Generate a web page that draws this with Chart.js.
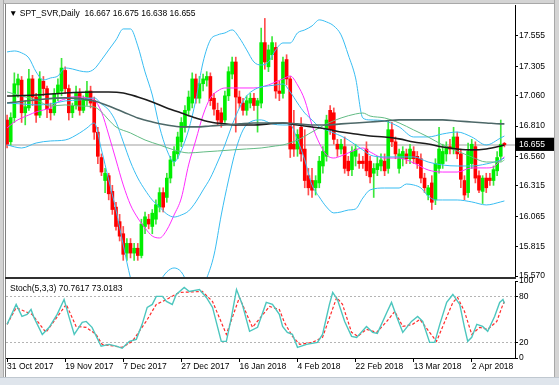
<!DOCTYPE html>
<html>
<head>
<meta charset="utf-8">
<title>SPT_SVR,Daily</title>
<script src="https://cdn.jsdelivr.net/npm/chart.js@4.4.1/dist/chart.umd.min.js"></script>
<style>
  html, body { margin: 0; padding: 0; background: #fff; }
  #wrap { position: relative; width: 559px; height: 385px; overflow: hidden; background: #fff; }
  canvas { position: absolute; left: 0; }
  #main { top: 0; }
  #stoch { top: 268px; }
  .edge { position: absolute; }
  .hdr { position: absolute; font-family: 'Liberation Sans', Arial, sans-serif; font-size: 8.5px; line-height: 10px; color: #000; white-space: nowrap; }
</style>
</head>
<body>
<div id="wrap">
  <canvas id="main" width="559" height="279"></canvas>
  <canvas id="stoch" width="559" height="117"></canvas>
  <div class="edge" style="left:0;top:0;width:559px;height:3px;background:#d4d4d4;border-bottom:1px solid #a8a8a8"></div>
  <div class="edge" style="left:0;top:0;width:3px;height:385px;background:#d4d4d4;border-right:1px solid #a8a8a8"></div>
  <div class="edge" style="left:5px;top:4px;width:1px;height:374px;background:#808080"></div>
  <div class="edge" style="left:5px;top:277px;width:511px;height:2px;background:#303030"></div>
  <div class="edge" style="left:554px;top:0;width:5px;height:385px;background:#d4d4d4;border-left:1px solid #a8a8a8"></div>
  <div class="edge" style="left:0;top:377px;width:559px;height:8px;background:#dfe5ec;border-top:1px solid #c0c8d0"></div>
  <div class="hdr" style="left:9px;top:8px">&#9660; SPT_SVR,Daily&nbsp; 16.667 16.675 16.638 16.655</div>
  <div class="hdr" style="left:10px;top:283px">Stoch(5,3,3) 70.7617 73.0183</div>
</div>
<script>
/* ===========================
   SPT_SVR daily: candles + BB + MAs, Stoch(5,3,3)
============================ */

// --- candles (one per bar, bar 0 = 31 Oct 2017)
const opens = [16.86,16.68,16.88,17.15,17.19,16.92,16.96,17.20,17.05,16.90,
  17.18,17.12,16.95,16.92,17.08,17.10,17.27,17.12,16.92,16.98,
  17.08,16.94,17.02,17.10,17.02,16.76,16.55,16.36,16.40,16.27,
  16.14,16.02,15.92,15.76,15.84,15.76,15.80,15.74,15.98,16.04,
  15.98,16.04,16.14,16.26,16.22,16.38,16.52,16.58,16.68,16.80,
  16.94,17.00,17.20,17.04,17.16,17.19,17.22,17.04,16.94,16.92,
  16.86,17.06,17.24,17.34,17.05,17.00,16.94,17.00,17.04,16.98,
  17.00,17.50,17.30,17.40,17.46,17.10,17.08,17.36,17.20,16.66,
  16.62,16.80,16.62,16.40,16.36,16.30,16.34,16.48,16.56,16.94,
  16.92,16.66,16.62,16.64,16.52,16.45,16.56,16.52,16.52,16.62,
  16.52,16.42,16.45,16.48,16.52,16.46,16.78,16.68,16.46,16.54,
  16.58,16.54,16.60,16.56,16.54,16.38,16.24,16.34,16.20,16.46,
  16.50,16.58,16.64,16.62,16.72,16.58,16.36,16.26,16.50,16.64,
  16.40,16.27,16.38,16.38,16.36,16.44,16.56,16.667];
const highs = [16.90,16.92,17.25,17.24,17.22,17.02,17.28,17.23,17.08,17.26,
  17.22,17.14,17.00,17.12,17.20,17.37,17.30,17.15,17.00,17.14,
  17.12,17.06,17.18,17.14,17.05,16.80,16.58,16.46,16.42,16.32,
  16.18,16.08,15.98,15.88,15.88,15.84,15.84,16.04,16.10,16.08,
  16.12,16.20,16.30,16.30,16.42,16.56,16.64,16.76,16.88,16.98,
  17.10,17.25,17.24,17.22,17.24,17.26,17.25,17.08,17.00,16.96,
  17.10,17.30,17.38,17.38,17.10,17.04,17.06,17.08,17.08,17.04,
  17.62,17.70,17.48,17.55,17.50,17.18,17.38,17.40,17.22,16.94,
  16.78,16.88,16.78,16.46,16.46,16.40,16.56,16.64,16.90,16.98,
  16.96,16.70,16.70,16.72,16.56,16.64,16.66,16.58,16.56,16.68,
  16.56,16.50,16.56,16.58,16.58,16.86,16.84,16.72,16.62,16.64,
  16.62,16.66,16.64,16.60,16.58,16.42,16.32,16.40,16.54,16.80,
  16.66,16.68,16.70,16.80,16.76,16.62,16.40,16.67,16.70,16.68,
  16.44,16.40,16.42,16.42,16.48,16.60,16.86,16.675];
const lows = [16.63,16.65,16.84,17.05,16.84,16.82,16.94,16.98,16.84,16.88,
  17.06,16.88,16.86,16.90,17.02,17.06,17.08,16.86,16.88,16.95,
  16.90,16.92,16.98,16.96,16.70,16.50,16.40,16.26,16.20,16.08,
  15.95,15.86,15.70,15.70,15.72,15.70,15.70,15.72,15.92,15.96,
  15.92,16.00,16.10,16.10,16.18,16.34,16.48,16.54,16.64,16.76,
  16.90,16.96,17.00,17.00,17.10,17.14,16.98,16.90,16.82,16.80,
  16.84,17.02,17.20,16.76,16.96,16.90,16.90,16.96,16.94,16.76,
  16.96,17.28,17.26,17.36,17.04,17.02,17.04,17.15,16.55,16.56,
  16.56,16.52,16.30,16.24,16.22,16.24,16.30,16.42,16.52,16.74,
  16.66,16.56,16.58,16.42,16.40,16.40,16.48,16.46,16.46,16.40,
  16.34,16.22,16.40,16.44,16.40,16.42,16.64,16.54,16.42,16.48,
  16.50,16.50,16.50,16.46,16.34,16.26,16.20,16.12,16.16,16.42,
  16.46,16.52,16.58,16.58,16.54,16.30,16.20,16.22,16.46,16.34,
  16.26,16.17,16.26,16.32,16.32,16.40,16.52,16.638];
const closes = [16.66,16.88,17.16,17.20,16.92,16.97,17.20,17.05,16.90,17.20,
  17.12,16.95,16.92,17.08,17.15,17.29,17.12,16.92,16.98,17.08,
  16.94,17.03,17.10,17.00,16.76,16.56,16.43,16.42,16.25,16.12,
  15.98,15.90,15.75,15.84,15.76,15.80,15.74,16.00,16.06,16.00,
  16.09,16.16,16.26,16.14,16.38,16.53,16.60,16.72,16.84,16.94,
  17.05,17.20,17.04,17.16,17.20,17.22,17.02,16.95,16.86,16.84,
  17.06,17.26,17.34,17.05,17.00,16.94,17.02,17.04,16.98,17.02,
  17.50,17.34,17.44,17.50,17.10,17.08,17.34,17.20,16.62,16.62,
  16.74,16.58,16.36,16.30,16.28,16.36,16.52,16.60,16.86,16.78,
  16.70,16.62,16.66,16.46,16.44,16.60,16.62,16.50,16.50,16.44,
  16.39,16.46,16.50,16.53,16.44,16.78,16.68,16.58,16.58,16.60,
  16.54,16.62,16.54,16.50,16.38,16.30,16.30,16.18,16.50,16.62,
  16.60,16.64,16.62,16.72,16.58,16.37,16.24,16.60,16.66,16.38,
  16.28,16.38,16.30,16.36,16.45,16.55,16.66,16.655];

// --- Bollinger bands (read at bar positions)
const upperIdx = [0,2,4,6,8,10,12,14,16,18,20,22,24,26,28,30,32,34,36,38,40,42,44,46,48,50,52,54,56,58,60,62,64,66,68,70,72,74,76,78,80,82,84,86,88,90,92,94,96,98,100,104,108,112,116,120,124,128,132,136,137];
const upperVal = [17.423,17.431,17.415,17.373,17.258,17.191,17.208,17.224,17.291,17.282,
  17.266,17.258,17.282,17.357,17.440,17.522,17.613,17.613,17.473,17.258,
  17.067,16.803,16.613,16.513,16.613,16.778,17.026,17.340,17.522,17.564,
  17.580,17.605,17.539,17.440,17.340,17.315,17.340,17.440,17.497,17.497,
  17.580,17.605,17.638,17.688,17.671,17.638,17.564,17.398,17.208,16.877,
  16.861,16.852,16.803,16.720,16.720,16.745,16.761,16.720,16.654,16.712,16.728];
const midIdx = [0,4,8,12,16,20,24,26,28,30,32,34,36,38,40,42,44,46,48,50,52,54,56,58,60,62,64,66,68,70,72,74,76,78,80,82,84,86,88,90,92,94,96,98,100,104,108,112,116,120,124,128,132,136,137];
const midVal = [17.001,16.993,16.985,16.993,17.018,17.026,17.043,16.993,16.943,16.844,
  16.679,16.513,16.381,16.282,16.199,16.141,16.083,16.058,16.075,16.108,
  16.183,16.282,16.381,16.513,16.654,16.819,16.960,17.059,17.109,17.134,
  17.142,17.150,17.158,17.092,17.001,16.918,16.861,16.803,16.778,16.753,
  16.728,16.695,16.654,16.613,16.571,16.555,16.555,16.555,16.513,16.488,
  16.480,16.480,16.497,16.530,16.546];
const lowIdx = [0,4,8,12,16,20,22,24,26,28,30,32,34,36,38,40,42,44,46,48,50,52,54,55,57,59,61,63,65,67,70,73,76,78,80,82,84,86,88,90,92,94,96,98,100,104,108,110,112,114,116,118,120,124,128,132,136,137];
const lowVal = [16.654,16.629,16.670,16.687,16.695,16.753,16.794,16.836,16.613,16.364,
  16.116,15.827,15.554,15.372,15.331,15.413,15.521,15.604,15.637,15.604,
  15.496,15.438,15.496,15.554,15.744,16.075,16.364,16.613,16.778,16.844,
  16.861,16.828,16.819,16.819,16.695,16.530,16.323,16.224,16.141,16.092,
  16.100,16.116,16.125,16.215,16.282,16.298,16.298,16.331,16.323,16.298,
  16.232,16.199,16.199,16.199,16.183,16.158,16.183,16.191];

// --- moving averages
const magIdx = [0,2,4,6,8,10,12,14,16,18,20,22,24,26,28,30,32,34,36,38,40,42,44,46,48,50,52,54,56,58,60,64,68,72,74,76,78,80,82,84,86,88,90,92,94,96,98,100,104,108,112,116,120,124,128,132,134,136,137];
const magVal = [16.794,16.844,16.877,16.902,16.927,16.943,16.960,17.010,17.034,17.051,
  17.051,17.043,17.026,16.927,16.737,16.530,16.323,16.158,16.050,15.967,
  15.901,15.885,15.951,16.075,16.215,16.489,16.695,16.902,17.043,17.100,
  17.125,17.125,17.125,17.150,17.175,17.200,17.224,17.150,17.026,16.819,
  16.670,16.571,16.546,16.563,16.588,16.613,16.629,16.596,16.546,16.546,
  16.505,16.447,16.430,16.430,16.464,16.464,16.472,16.530,16.555];
const slowIdx = [0,8,16,24,28,32,36,40,44,48,52,56,60,64,68,72,76,80,84,88,92,96,100,104,108,112,116,120,124,128,132,136,137];
const blackVal = [17.059,17.067,17.084,17.092,17.092,17.084,17.051,17.010,16.960,16.918,
  16.877,16.844,16.828,16.819,16.819,16.828,16.836,16.819,16.803,16.786,
  16.761,16.745,16.728,16.720,16.704,16.679,16.662,16.637,16.621,16.613,
  16.621,16.646,16.654];
const grayVal = [17.001,17.026,17.043,17.018,16.976,16.927,16.877,16.844,16.819,16.803,
  16.803,16.811,16.819,16.828,16.836,16.836,16.836,16.828,16.819,16.819,
  16.828,16.836,16.844,16.852,16.861,16.861,16.861,16.861,16.852,16.844,
  16.836,16.828,16.828];
const greenIdx = [0,4,8,12,16,20,24,26,28,30,34,38,42,46,50,54,58,62,66,70,74,76,80,84,88,92,96,98,100,104,108,112,116,120,124,128,132,136,137];
const greenVal = [17.092,17.059,17.026,16.976,16.985,16.976,16.968,16.927,16.861,16.803,
  16.753,16.695,16.654,16.613,16.588,16.596,16.604,16.613,16.621,16.629,
  16.646,16.654,16.695,16.761,16.828,16.877,16.910,16.918,16.893,16.877,
  16.836,16.778,16.720,16.654,16.604,16.555,16.513,16.513,16.530];

// --- stochastic
const kIdx = [0,2.5,4.1,5.5,6.6,7.4,9.7,11.6,13.8,15.7,17.1,18.5,20.7,21.8,23.4,25.9,28.1,30.3,31.7,33.7,35.6,37.2,38.6,40,41.1,42.8,43.9,45.5,46.6,48.8,50.2,53,54.9,56.6,59,60.4,61.8,63.2,64.8,66.8,69,71.4,73.1,75,75.9,77.2,78.6,80,82.5,85.5,86.9,88.8,89.7,91,93,94.9,96.3,99,100.7,102,104.6,105.9,107.3,109,111.4,113.1,114.5,116.4,117.8,119.2,121.1,122.8,124.7,126,126.9,128,129.4,131,132.4,134.3,135.7,136.6,137];
const kVal = [43.7,69.6,54,56.6,63,52.7,30.6,39.8,56.6,76,52.7,30.6,46.2,47.5,39.8,15.2,17.7,15.2,12.6,21.6,24.2,43.7,65.7,69.6,80,80,73.4,69.6,82.5,91.6,86.4,89,78.6,65.7,21.6,21.6,52.7,89,69.6,34.6,39.8,72.2,69.6,56.6,41,33.3,30.7,13.9,17.7,20.3,30.7,69.6,85.1,76,47.5,28.1,26.8,41,33.3,32,59.2,72.2,54,33.3,47.5,54,47.5,20.3,20.3,43.7,72.2,82.5,69.6,39.8,21.6,26.8,43.7,41,34.6,54,72.2,76,70.76];
const dIdx = [0,2.5,6.9,10.7,16.3,19,21.8,24.5,26.2,31.7,34.5,38.3,41.1,43.9,47.4,53.8,56.6,60.4,64,67.6,72.3,75,76.4,78.6,80.6,84.1,86.9,90.8,92.4,94.9,96.6,99,101.8,104.6,106.8,109,111.7,113.7,116.4,118.3,120.6,122.8,124.1,126,128,130.2,132.4,134.9,136.6,137];
const dVal = [43.7,65.3,56.6,33.3,69.6,41,39.8,30.7,17.7,13.9,21.6,47.5,69.6,76,85.1,86.4,73.4,30.7,78.6,39.8,67,63,46.2,28.1,17.7,20.3,26.8,78.6,69.6,33.3,28.1,37.2,33.3,47.5,60.5,41,43.7,50.1,33.3,21.6,47.5,72.2,78.6,60.5,30.7,39.8,37.2,47.5,69.6,73.02];

// --- axes
const priceTicks = [17.555, 17.305, 17.060, 16.810, 16.560, 16.315, 16.065, 15.815, 15.570];
const bidPrice = 16.655;
const stochTicks = [0, 20, 80, 100];
const dateIdx = [0, 16, 32, 48, 64, 80, 96, 112, 128];
const dateLabels = ['31 Oct 2017', '19 Nov 2017', '7 Dec 2017', '27 Dec 2017', '16 Jan 2018',
  '4 Feb 2018', '22 Feb 2018', '13 Mar 2018', '2 Apr 2018'];

Chart.defaults.font.family = "'Liberation Sans', Arial, sans-serif";
Chart.defaults.font.size = 8.5;
Chart.defaults.color = '#000';
Chart.defaults.animation = false;

const X_MIN = -0.3, X_MAX = 139.92;
const pts = (idx, val) => idx.map((x, k) => ({ x, y: val[k] }));
const isUp = i => closes[i] >= opens[i];
const isBid = c => c.tick && Math.abs(c.tick.value - bidPrice) < 1e-6;
const noPad = s => { s.paddingTop = 0; s.paddingBottom = 0; s.paddingLeft = 0; s.paddingRight = 0; };

function lineSet(label, idx, val, color, width) {
    return {
        type: 'line', label, data: pts(idx, val),
        borderColor: color, borderWidth: width, pointRadius: 0, fill: false,
        cubicInterpolationMode: 'monotone', order: 0
    };
}

new Chart(document.getElementById('main'), {
    type: 'bar',
    data: {
        datasets: [
            {
                label: 'wick', order: 2, grouped: false, barThickness: 1,
                data: opens.map((o, i) => ({ x: i, y: [lows[i], highs[i]] })),
                backgroundColor: c => isUp(c.dataIndex) ? '#3be83b' : '#ff4d4d'
            },
            {
                label: 'body', order: 1, grouped: false, barThickness: 3, minBarLength: 1,
                data: opens.map((o, i) => ({ x: i, y: [o, closes[i]] })),
                backgroundColor: c => isUp(c.dataIndex) ? '#00ee00' : '#ff0000'
            },
            lineSet('slow', slowIdx, grayVal, '#4d6868', 1.6),
            lineSet('slower', slowIdx, blackVal, '#1c1c1c', 1.6),
            lineSet('green', greenIdx, greenVal, '#62bb84', 1),
            lineSet('upper', upperIdx, upperVal, '#38bdf2', 1),
            lineSet('middle', midIdx, midVal, '#38bdf2', 1),
            lineSet('lower', lowIdx, lowVal, '#38bdf2', 1),
            lineSet('fast', magIdx, magVal, '#ff2cff', 1),
        ]
    },
    options: {
        responsive: false,
        layout: { autoPadding: false, padding: { left: 6, top: 5, right: 0, bottom: 1 } },
        plugins: { legend: { display: false }, tooltip: { enabled: false } },
        scales: {
            x: { type: 'linear', min: X_MIN, max: X_MAX, offset: false, display: false },
            y: {
                position: 'right', min: 15.554, max: 17.811, beginAtZero: false,
                afterFit: s => { s.width = 44; noPad(s); },
                afterBuildTicks: s => { s.ticks = priceTicks.concat([bidPrice]).map(v => ({ value: v })); },
                ticks: {
                    padding: 1,
                    callback: v => v.toFixed(3),
                    color: c => isBid(c) ? '#fff' : '#000',
                    showLabelBackdrop: c => isBid(c),
                    backdropColor: '#000',
                    backdropPadding: { left: 3, right: 10, top: 2, bottom: 1 }
                },
                grid: {
                    color: c => isBid(c) ? '#cfcfcf' : 'rgba(0,0,0,0)',
                    lineWidth: c => isBid(c) ? 2 : 1,
                    tickColor: '#000', tickWidth: 1, tickLength: 3
                },
                border: { display: true, color: '#000', width: 1 }
            }
        }
    }
});

new Chart(document.getElementById('stoch'), {
    type: 'line',
    data: {
        datasets: [
            { label: '%K', data: pts(kIdx, kVal), borderColor: '#4cc6be', borderWidth: 1.4, pointRadius: 0, tension: 0 },
            { label: '%D', data: pts(dIdx, dVal), borderColor: '#ff2a2a', borderWidth: 1.2, borderDash: [3, 2], pointRadius: 0, tension: 0 }
        ]
    },
    options: {
        responsive: false,
        layout: { autoPadding: false, padding: { left: 6, top: 13, right: 0, bottom: 0 } },
        plugins: { legend: { display: false }, tooltip: { enabled: false } },
        scales: {
            x: {
                type: 'linear', min: X_MIN, max: X_MAX,
                afterFit: s => { s.height = 27; noPad(s); },
                afterBuildTicks: s => { s.ticks = dateIdx.map(v => ({ value: v })); },
                ticks: { align: 'start', maxRotation: 0, autoSkip: false, padding: 0, callback: v => dateLabels[dateIdx.indexOf(v)] },
                grid: { drawOnChartArea: false, color: '#000', tickLength: 4 },
                border: { display: true, color: '#000', width: 1 }
            },
            y: {
                position: 'right', min: 0, max: 100,
                afterFit: s => { s.width = 44; noPad(s); },
                afterBuildTicks: s => { s.ticks = stochTicks.map(v => ({ value: v })); },
                ticks: { padding: 1 },
                grid: {
                    color: c => (c.tick && (c.tick.value === 20 || c.tick.value === 80)) ? '#b4b4b4' : 'rgba(0,0,0,0)',
                    tickColor: '#000', tickWidth: 1, tickLength: 3
                },
                border: { display: true, color: '#000', width: 1, dash: [2, 2] }
            }
        }
    }
});
</script>
</body>
</html>
